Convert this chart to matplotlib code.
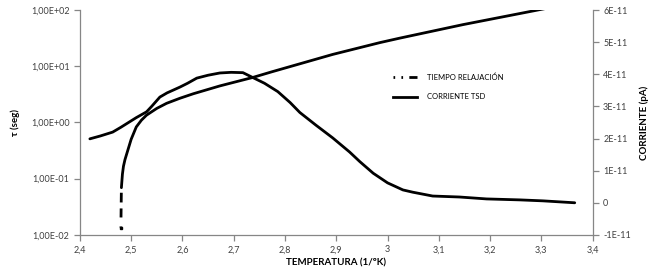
"""
TSD: tiempo de relajacion y corriente frente a 1/T
"""

import matplotlib
matplotlib.use("Agg")
import matplotlib.pyplot as plt
from matplotlib.lines import Line2D
from matplotlib.ticker import FuncFormatter, FixedLocator
import numpy as np

plt.rcParams['font.family'] = ['Lato', 'DejaVu Sans']
plt.rcParams['lines.scale_dashes'] = False

# tiempo de relajacion (eje izquierdo, log10 de tau en s)
tau_T = [2.480, 2.481, 2.483, 2.485, 2.488, 2.492, 2.500, 2.510, 2.520, 2.530,
         2.550, 2.569, 2.595, 2.621, 2.673, 2.737, 2.774, 2.893, 2.985, 3.024,
         3.147, 3.310]
tau_log = [-1.87, -1.16, -0.92, -0.78, -0.66, -0.54, -0.30, -0.08, 0.04, 0.13,
           0.25, 0.34, 0.43, 0.51, 0.65, 0.80, 0.90, 1.21, 1.42, 1.50,
           1.74, 2.03]

# corriente TSD (eje derecho, en unidades de 1E-11)
cur_T = [2.4195, 2.440, 2.464, 2.480, 2.497, 2.510, 2.530, 2.540, 2.556, 2.570,
         2.595, 2.610, 2.628, 2.650, 2.673, 2.695, 2.718, 2.737, 2.760, 2.786,
         2.810, 2.829, 2.860, 2.893, 2.926, 2.946, 2.972, 3.000, 3.030, 3.049,
         3.088, 3.140, 3.193, 3.258, 3.303, 3.365]
cur_v = [1.99, 2.08, 2.20, 2.35, 2.52, 2.65, 2.83, 3.00, 3.29, 3.42,
         3.60, 3.72, 3.88, 3.97, 4.04, 4.06, 4.05, 3.90, 3.72, 3.46,
         3.12, 2.81, 2.42, 2.02, 1.58, 1.28, 0.92, 0.62, 0.40, 0.33,
         0.21, 0.18, 0.12, 0.09, 0.06, 0.0]

x_ticks = [2.4, 2.5, 2.6, 2.7, 2.8, 2.9, 3.0, 3.1, 3.2, 3.3, 3.4]
GRAY = '#868686'

tau = [10 ** v for v in tau_log]
cur = [v * 1e-11 for v in cur_v]

fig = plt.figure(figsize=(6.6, 2.78), dpi=100)
ax = fig.add_axes([0.121, 0.155, 0.777, 0.809])
ax2 = ax.twinx()

# tau: el primer tramo (largo) se ve discontinuo, el resto denso se ve continuo
ax.plot(tau_T[:2], tau[:2], color='black', lw=2.0,
        linestyle=(0, (0.8, 6.5, 6.5, 4.3, 7.0, 4.3)), solid_capstyle='butt')
ax.plot(tau_T[1:], tau[1:], color='black', lw=2.0, solid_capstyle='round')
ax.plot([tau_T[0]], [tau[0]], 's', color='black', ms=1.8)

ax2.plot(cur_T, cur, color='black', lw=2.0, solid_capstyle='round',
         solid_joinstyle='round')

ax.set_yscale('log')
ax.set_ylim(1e-2, 1e2)
ax.set_xlim(2.4, 3.4)
ax2.set_ylim(-1e-11, 6e-11)

ax.xaxis.set_major_locator(FixedLocator(x_ticks))
ax.xaxis.set_major_formatter(FuncFormatter(lambda v, p: f"{v:g}".replace('.', ',')))
ax.yaxis.set_major_locator(FixedLocator([1e-2, 1e-1, 1e0, 1e1, 1e2]))
ax.yaxis.set_minor_locator(FixedLocator([]))


def log_fmt(v, p):
    e = int(round(np.log10(v)))
    return f"1,00E{e:+03d}"


ax.yaxis.set_major_formatter(FuncFormatter(log_fmt))


def cur_fmt(v, p):
    n = int(round(v / 1e-11))
    return "0" if n == 0 else f"{n}E-11"


ax2.yaxis.set_major_locator(FixedLocator([i * 1e-11 for i in range(-1, 7)]))
ax2.yaxis.set_major_formatter(FuncFormatter(cur_fmt))

for a in (ax, ax2):
    for s in a.spines.values():
        s.set_color(GRAY)
        s.set_linewidth(0.9)
    a.spines['top'].set_visible(False)
    a.tick_params(axis='both', colors=GRAY, labelcolor='#404040',
                  labelsize=6.5, length=4, width=0.9, direction='out')
ax.spines['right'].set_visible(False)
ax2.spines['left'].set_visible(False)
ax2.spines['bottom'].set_visible(False)

ax.set_xlabel('TEMPERATURA (1/ºK)', fontsize=7, weight='bold', labelpad=3)
ax.set_ylabel('τ (seg)', fontsize=7, weight='bold', labelpad=8)
ax2.set_ylabel('CORRIENTE (pA)', fontsize=7, weight='bold', labelpad=6)

handles = [
    Line2D([], [], color='black', lw=2.0,
           linestyle=(0, (1.2, 4.5, 1.2, 4.5, 11, 4))),
    Line2D([], [], color='black', lw=2.0),
]
fig.legend(handles, ['TIEMPO RELAJACIÓN', 'CORRIENTE TSD'],
           loc='upper left', bbox_to_anchor=(0.585, 0.76), frameon=False,
           fontsize=5.5, handlelength=3.2, labelspacing=1.6, handletextpad=1.3)

fig.savefig('out.png', dpi=100)
